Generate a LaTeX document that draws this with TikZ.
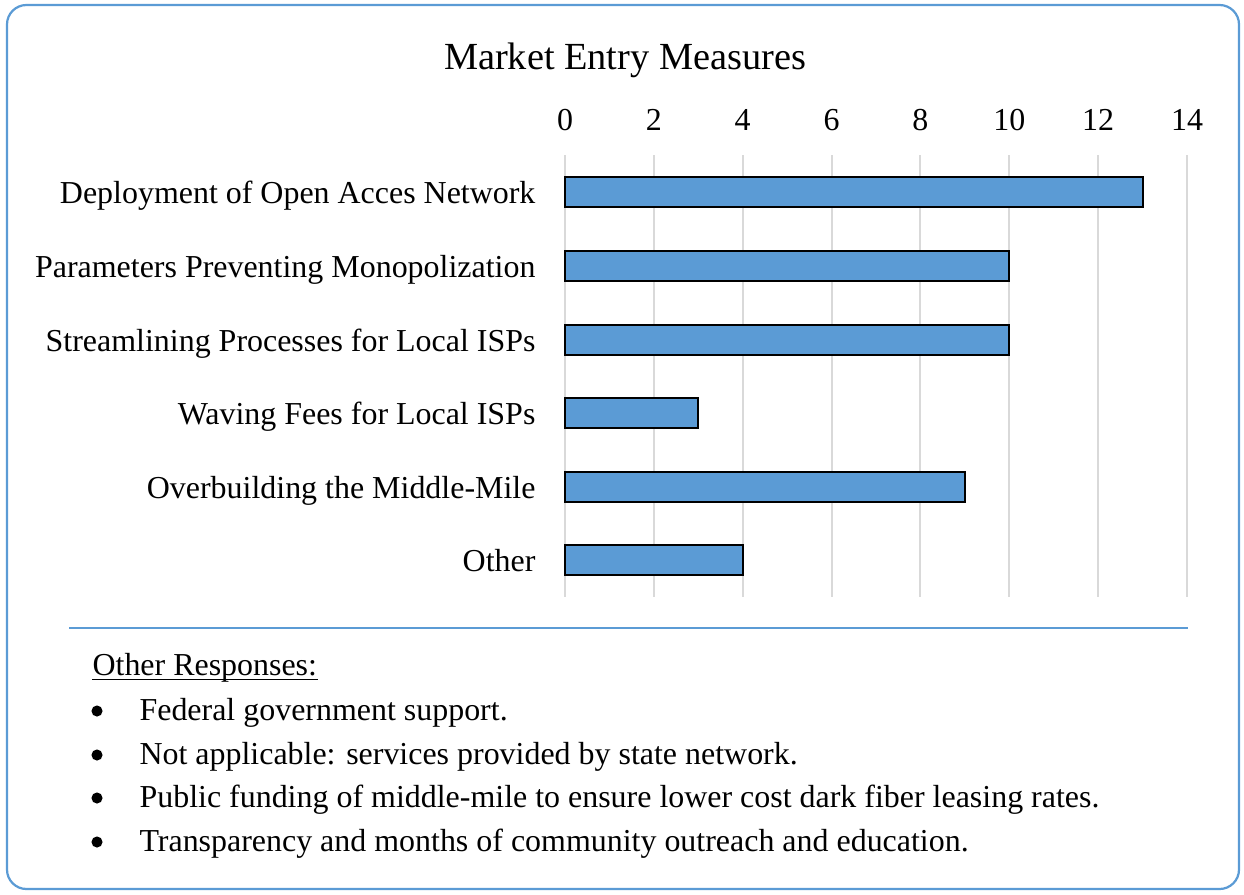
\documentclass[tikz,border=0pt]{standalone}
\usepackage{fontspec}
\setmainfont{Liberation Serif}
\usetikzlibrary{positioning}
\definecolor{mblue}{RGB}{91, 155, 213}
\definecolor{mgrid}{RGB}{217, 217, 217}
\tikzset{bar/.style = {draw = black, fill = mblue, line width = 0.7pt}}
\tikzset{gridline/.style = {mgrid, line width = 0.7pt}}
\tikzset{catlabel/.style = {anchor = base east, inner sep = 0}}
\tikzset{item/.style = {anchor = base west, inner sep = 0}}
\tikzset{circ/.style = {fill, circle, inner sep = 0, minimum size = 4pt}}

\begin{document}
\begin{tikzpicture}[x = 0.36pt, y = -0.36pt, font = \fontsize{11.5}{14}\selectfont]
    \useasboundingbox (0, 0) rectangle (1244, 894);
    \draw [mblue, line width = 0.8pt, rounded corners = 7pt] (7, 5) rectangle (1239, 889);

    \node (title) at (625, 60) {\fontsize{13.8}{17}\selectfont Market Entry Measures};

    % grid and axis numbers, 44.43 units per step of 1
    \foreach \v in {0, 2, ..., 14} {
        \draw [gridline] (565 + 44.43*\v, 155) -- (565 + 44.43*\v, 597);
        \node (tick\v) at (565 + 44.43*\v, 120) {\v};
    }

    \foreach \y/\v/\name/\lab in {192/13/open/Deployment of Open Acces Network,
                                  266/10/mono/Parameters Preventing Monopolization,
                                  340/10/isp/Streamlining Processes for Local ISPs,
                                  413/3/fees/Waving Fees for Local ISPs,
                                  487/9/mile/Overbuilding the Middle-Mile,
                                  560/4/other/Other} {
        \draw [bar] (565, \y - 15) rectangle (565 + 44.43*\v, \y + 15);
        \node [catlabel] (\name) at (536, \y + 11) {\lab};
    }

    \draw [mblue, line width = 0.7pt] (69, 628) -- (1188, 628);

    \node [item] (resp) at (92, 675) {Other Responses:};
    \draw [line width = 0.6pt] ([yshift = -1.6pt] resp.base west) -- ([yshift = -1.6pt] resp.base east);
    \foreach \y/\name/\txt in {720/r1/Federal government support.,
                               764/r2/Not applicable: services provided by state network.,
                               807/r3/Public funding of middle-mile to ensure lower cost dark fiber leasing rates.,
                               851/r4/Transparency and months of community outreach and education.} {
        \node [circ] (dot\name) at (97, \y - 9) {};
        \node [item] (\name) at (139, \y) {\txt};
    }
\end{tikzpicture}
\end{document}
